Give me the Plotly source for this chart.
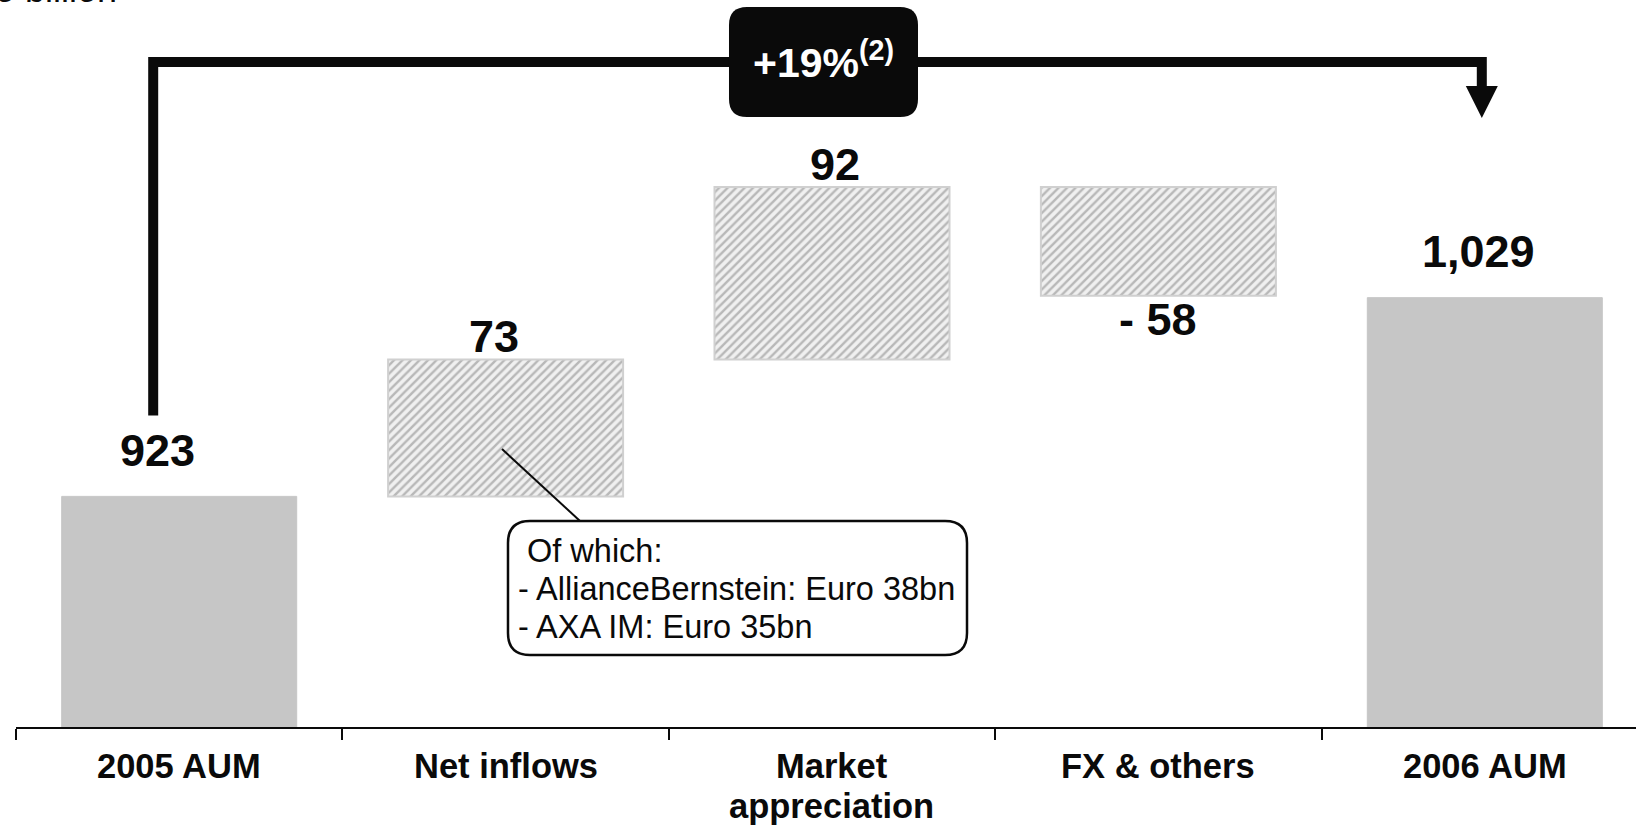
import plotly.graph_objects as go

# ---------------- data ----------------
categories = ["2005 AUM", "Net inflows", "Market<br>appreciation", "FX & others", "2006 AUM"]
values = [923, 73, 92, -58, 1029]
measures = ["total", "relative", "relative", "relative", "total"]
value_labels = ["923", "73", "92", "- 58", "1,029"]
growth_label = "+19%<sup>(2)</sup>"
unit_label = "Euro billion"
callout_lines = ["Of which:", "- AllianceBernstein: Euro 38bn", "- AXA IM: Euro 35bn"]

# ---------------- geometry / style ----------------
W, H = 1636, 826
ML, MR, MT, MB = 16, 0, 0, 99
plot_w = W - ML - MR
plot_h = H - MT - MB
Y0 = 800
PX_PER_UNIT = 1.875
y_range = [Y0, Y0 + plot_h / PX_PER_UNIT]
CAT_PX = 326.4
x_range = [-0.5, -0.5 + plot_w / CAT_PX]

FONT = "Arial, 'Liberation Sans', sans-serif"
BLACK = "#0a0a0a"
SOLID = "#c6c6c6"
LABEL_XSHIFT = [-22, -12, 3, 0, -6]


def px_x(px):
    return (px - ML) / plot_w


def px_y(py):
    return (H - MB - py) / plot_h


def val_py(v):
    return H - MB - (v - Y0) * PX_PER_UNIT


def idx_px(i):
    return ML + (i - x_range[0]) * CAT_PX


def rounded_rect(x0, y0, x1, y1, r):
    def P(x, y):
        return f"{px_x(x):.5f},{px_y(y):.5f}"
    return (
        f"M {P(x0 + r, y0)} L {P(x1 - r, y0)} Q {P(x1, y0)} {P(x1, y0 + r)} "
        f"L {P(x1, y1 - r)} Q {P(x1, y1)} {P(x1 - r, y1)} "
        f"L {P(x0 + r, y1)} Q {P(x0, y1)} {P(x0, y1 - r)} "
        f"L {P(x0, y0 + r)} Q {P(x0, y0)} {P(x0 + r, y0)} Z"
    )


# ---------------- waterfall bases ----------------
bases, heights = [], []
running = 0
for v, m in zip(values, measures):
    if m == "total":
        bases.append(0)
        heights.append(v)
        running = v
    else:
        bases.append(running)
        heights.append(v)
        running += v

is_total = [m == "total" for m in measures]
tot_idx = [i for i, t in enumerate(is_total) if t]
rel_idx = [i for i, t in enumerate(is_total) if not t]

fig = go.Figure()
fig.add_trace(go.Bar(
    x=[categories[i] for i in tot_idx],
    y=[heights[i] for i in tot_idx],
    base=[bases[i] for i in tot_idx],
    width=0.72,
    marker=dict(color=SOLID, line=dict(color=SOLID, width=1)),
    hoverinfo="skip", showlegend=False,
))
fig.add_trace(go.Bar(
    x=[categories[i] for i in rel_idx],
    y=[heights[i] for i in rel_idx],
    base=[bases[i] for i in rel_idx],
    width=0.72,
    marker=dict(
        color="#f0f0f0",
        line=dict(color="#d0d0d0", width=2),
        pattern=dict(shape="/", fillmode="overlay", fgcolor="#b8b8b8",
                     fgopacity=1, size=6, solidity=0.4),
    ),
    hoverinfo="skip", showlegend=False,
))

annotations = []
# value labels
for i, (c, b, h, lab, t) in enumerate(zip(categories, bases, heights, value_labels, is_total)):
    top = max(b, b + h)
    bot = min(b, b + h)
    if t:
        yv, shift = top, 46
    elif h >= 0:
        yv, shift = top, 23
    else:
        yv, shift = bot, -24
    annotations.append(dict(
        x=c, y=yv, xref="x", yref="y", text=lab, showarrow=False,
        yanchor="middle", xanchor="center", yshift=shift, xshift=LABEL_XSHIFT[i],
        font=dict(family=FONT, size=45, color=BLACK, weight="bold"),
    ))

# category labels (one annotation per line for tight line spacing)
CAT_LINE_MID = [766, 806]
for i, c in enumerate(categories):
    for k, part in enumerate(c.split("<br>")):
        annotations.append(dict(
            x=px_x(idx_px(i)), y=px_y(CAT_LINE_MID[k]), xref="paper", yref="paper",
            text=part, showarrow=False, xanchor="center", yanchor="middle",
            font=dict(family=FONT, size=34.5, color=BLACK, weight="bold"),
        ))

# unit label (partially cut off at the top of the page)
annotations.append(dict(
    x=px_x(119), y=1, xref="paper", yref="paper", text=unit_label, showarrow=False,
    xanchor="right", yanchor="bottom", yshift=-12,
    font=dict(family=FONT, size=36, color=BLACK),
))

# growth badge
bracket_top = 62
badge_cx = 823
annotations.append(dict(
    x=px_x(badge_cx), y=px_y(bracket_top - 2), xref="paper", yref="paper",
    text=growth_label, showarrow=False, xanchor="center", yanchor="middle",
    font=dict(family=FONT, size=41, color="white", weight="bold"),
))

# callout text
callout_left = 516
callout_mid = [551, 588.5, 627]
for k, (line, ym) in enumerate(zip(callout_lines, callout_mid)):
    annotations.append(dict(
        x=px_x(callout_left + (9 if k == 0 else 0)), y=px_y(ym),
        xref="paper", yref="paper", text=line, showarrow=False,
        xanchor="left", yanchor="middle",
        font=dict(family=FONT, size=32.5, color=BLACK),
    ))

shapes = []
# bracket from 2005 AUM to 2006 AUM
left_x = idx_px(0) - 26
right_x = idx_px(len(categories) - 1) - 3
left_bottom = val_py(values[0]) - 81
arrow_tip = 118
arrow_base = 86
shapes.append(dict(
    type="path", xref="paper", yref="paper",
    path=f"M {px_x(left_x)},{px_y(left_bottom)} L {px_x(left_x)},{px_y(bracket_top)} "
         f"L {px_x(right_x)},{px_y(bracket_top)} L {px_x(right_x)},{px_y(arrow_base + 1)}",
    line=dict(color=BLACK, width=10),
))
shapes.append(dict(
    type="path", xref="paper", yref="paper",
    path=f"M {px_x(right_x - 16)},{px_y(arrow_base)} L {px_x(right_x + 16)},{px_y(arrow_base)} "
         f"L {px_x(right_x)},{px_y(arrow_tip)} Z",
    fillcolor=BLACK, line=dict(color=BLACK, width=0),
))
# badge box
shapes.append(dict(
    type="path", xref="paper", yref="paper",
    path=rounded_rect(729, 7, 918, 117, 18),
    fillcolor=BLACK, line=dict(color=BLACK, width=0),
))
# callout leader + box
shapes.append(dict(
    type="line", xref="paper", yref="paper",
    x0=px_x(502), y0=px_y(449), x1=px_x(580), y1=px_y(521),
    line=dict(color=BLACK, width=2),
))
shapes.append(dict(
    type="path", xref="paper", yref="paper",
    path=rounded_rect(508, 521, 967, 655, 22),
    fillcolor="white", line=dict(color=BLACK, width=2.5),
))

fig.update_layout(
    width=W, height=H,
    margin=dict(l=ML, r=MR, t=MT, b=MB, pad=0, autoexpand=False),
    paper_bgcolor="white", plot_bgcolor="white",
    font=dict(family=FONT, color=BLACK),
    barmode="overlay",
    annotations=annotations,
    shapes=shapes,
    xaxis=dict(
        type="category", range=x_range, tickson="boundaries",
        categoryorder="array", categoryarray=categories,
        showline=True, linecolor=BLACK, linewidth=2,
        ticks="outside", ticklen=11, tickwidth=2, tickcolor=BLACK,
        showticklabels=False, automargin=False,
        showgrid=False, zeroline=False, fixedrange=True,
    ),
    yaxis=dict(range=y_range, visible=False, showgrid=False, zeroline=False,
               fixedrange=True, automargin=False),
)

fig.write_html("out.html", config={"displayModeBar": False},
               post_script="document.body.style.margin='0';document.body.style.overflow='hidden';")
